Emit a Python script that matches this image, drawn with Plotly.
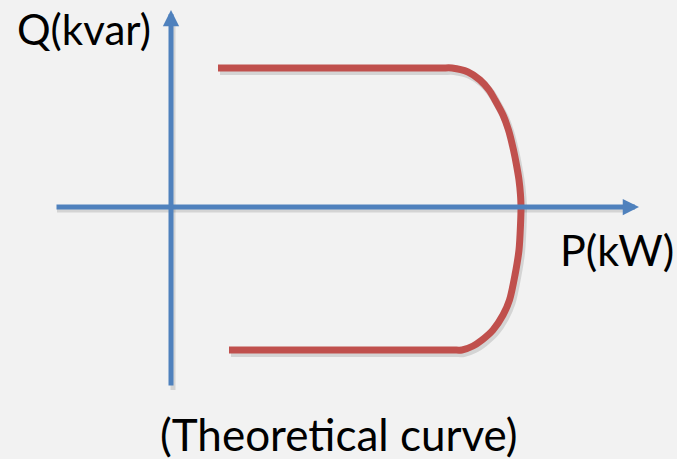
import plotly.graph_objects as go

# Red P-Q capability curve (P in kW, Q in kvar; schematic units)
curve_p = [47, 60, 270, 281, 297, 309, 318, 324, 332, 337.5, 342.5, 345.5, 348, 349.5, 350,
           349.5, 348, 344, 338.5, 332, 322, 311, 302, 291, 281, 70, 58]
curve_q = [139, 139, 139, 139, 135, 127, 117, 107, 92, 77, 57, 42, 27, 12, 0,
           -18, -43, -68, -93, -108, -123, -133, -139, -143, -143, -143, -143]

# Axis extents (tail -> head)
p_axis = [-116, 468]   # horizontal axis from / to (at Q = 0)
q_axis = [-180, 197]   # vertical axis from / to (at P = 0)

labels = {"q": "Q(kvar)", "p": "P(kW)", "title": "(Theoretical curve)"}

BLUE = "#4f81bd"
RED = "#c0504d"
BG = "#f2f2f2"
SHADOW = "rgba(0,0,0,0.12)"
FONT = "Lato"

fig = go.Figure()

# shadow of curve
fig.add_trace(go.Scatter(x=[p + 2 for p in curve_p], y=[q - 3 for q in curve_q],
                         mode="lines", line=dict(color=SHADOW, width=8, shape="spline", smoothing=0.8),
                         hoverinfo="skip", showlegend=False))
# axis shadows
fig.add_trace(go.Scatter(x=[p_axis[0] + 2, p_axis[1] - 14], y=[-3, -3], mode="lines",
                         line=dict(color=SHADOW, width=5), hoverinfo="skip", showlegend=False))
fig.add_trace(go.Scatter(x=[2, 2], y=[q_axis[0] - 3, q_axis[1] - 16], mode="lines",
                         line=dict(color=SHADOW, width=5), hoverinfo="skip", showlegend=False))

# curve
fig.add_trace(go.Scatter(x=curve_p, y=curve_q, mode="lines",
                         line=dict(color=RED, width=7, shape="spline", smoothing=0.8),
                         hoverinfo="skip", showlegend=False))

annotations = [
    # horizontal axis arrow
    dict(x=p_axis[1], y=0, ax=p_axis[0], ay=0, xref="x", yref="y", axref="x", ayref="y",
         showarrow=True, arrowhead=2, arrowsize=0.65, arrowwidth=5, arrowcolor=BLUE, text=""),
    # vertical axis arrow
    dict(x=0, y=q_axis[1], ax=0, ay=q_axis[0], xref="x", yref="y", axref="x", ayref="y",
         showarrow=True, arrowhead=2, arrowsize=0.65, arrowwidth=5, arrowcolor=BLUE, text=""),
    dict(x=-87, y=178, xref="x", yref="y", text=labels["q"], showarrow=False,
         font=dict(family=FONT, size=42, color="black"), xanchor="center", yanchor="middle"),
    dict(x=446, y=-42, xref="x", yref="y", text=labels["p"], showarrow=False,
         font=dict(family=FONT, size=43, color="black"), xanchor="center", yanchor="middle"),
    dict(x=168, y=-227, xref="x", yref="y", text=labels["title"], showarrow=False,
         font=dict(family=FONT, size=44, color="black"), xanchor="center", yanchor="middle"),
]

fig.update_layout(
    width=677, height=459,
    margin=dict(l=0, r=0, t=0, b=0),
    paper_bgcolor=BG, plot_bgcolor=BG,
    xaxis=dict(range=[-171, 506], visible=False, fixedrange=True),
    yaxis=dict(range=[-252, 207], visible=False, fixedrange=True),
    annotations=annotations,
)

fig.write_html("out.html", config={"displayModeBar": False},
               post_script="document.body.style.margin='0';document.body.style.overflow='hidden';")
